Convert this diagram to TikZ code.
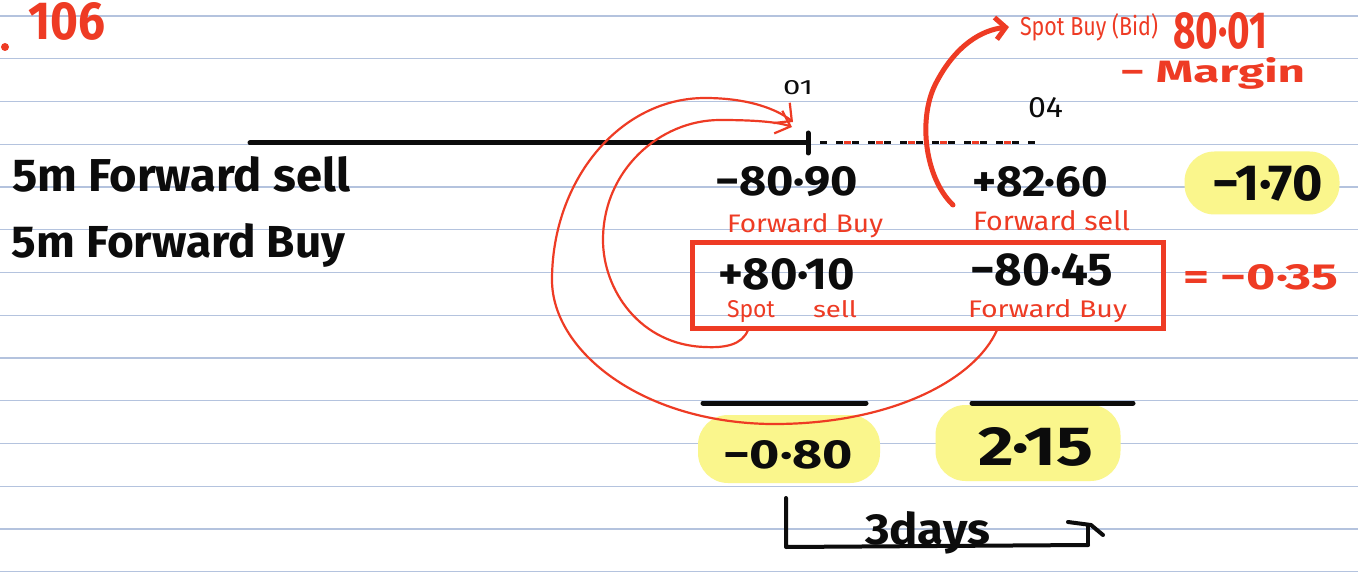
\documentclass[tikz,border=0pt]{standalone}
\usepackage{fontspec}
\setmainfont{Fira Sans}
\usetikzlibrary{arrows.meta}

\definecolor{ink}{RGB}{12,12,12}
\definecolor{pen}{RGB}{238,59,36}
\definecolor{marker}{RGB}{250,246,140}
\definecolor{ruling}{RGB}{180,195,222}

% handwritten-style word: [style] {name} {x} {baseline y} {width} {height} {text}
\newcommand\scribble[7][]{%
  \node[anchor=base west, inner sep=0pt, outer sep=0pt, #1] (#2) at (#3,#4)
    {\resizebox{#5pt}{#6pt}{#7}};}

\tikzset{
  ruled/.style={draw=ruling, line width=1.4pt},
  blob/.style={fill=marker, rounded corners=30pt, inner sep=0pt},
  heavy/.style={draw=ink, line width=5pt, line cap=round},
  inkline/.style={draw=ink, line width=4pt, line cap=round, line join=round},
  redpen/.style={draw=pen, line width=2.2pt, line cap=round},
  redthick/.style={draw=pen, line width=5pt, line cap=round},
  blacktext/.style={text=ink, font=\bfseries},
  redtext/.style={text=pen},
  redbold/.style={text=pen, font=\bfseries},
}

\begin{document}
\begin{tikzpicture}[x=1pt, y=-1pt]
\useasboundingbox (0,0) rectangle (1358,580);
\fill[white] (0,0) rectangle (1358,580);

% notebook ruling
\foreach \k in {0,...,13}
  \draw[ruled] (0,16+42.75*\k) -- (1358,16+42.75*\k);

% highlighter marks
\node[blob, minimum width=155pt, minimum height=63pt] (hlNet)  at (1262,183) {};
\node[blob, minimum width=182pt, minimum height=68pt] (hlLeft) at (789,449) {};
\node[blob, minimum width=185pt, minimum height=76pt] (hlRight) at (1028,443) {};

% page number
\scribble[redbold]{page}{28}{40}{77}{37}{106}
\fill[pen] (5,47) circle (4pt);

% time line with settlement dates
\coordinate (lineStart) at (250,143);
\coordinate (dayOne) at (808,143);
\coordinate (dashStart) at (820,143);
\coordinate (dashEnd) at (1035,143);
\draw[heavy] (lineStart) -- (dayOne);
\draw[heavy] (808,133) -- (808,153);
\draw[draw=ink, line width=3pt, dash pattern=on 7pt off 9pt] (dashStart) -- (dashEnd);
\draw[draw=pen, line width=3pt, dash pattern=on 7pt off 25pt, dash phase=8pt] (dashStart) -- (dashEnd);
\scribble[text=ink]{d01}{783}{95}{30}{14}{01}
\scribble[text=ink]{d04}{1028}{118}{35}{20}{04}

% row labels
\scribble[blacktext]{rowSell}{12}{192}{338}{35}{5m Forward sell}
\scribble[blacktext]{rowBuy}{12}{258}{333}{34}{5m Forward Buy}

% first leg
\scribble[blacktext]{fwdNear}{715}{196}{143}{29}{−80·90}
\scribble[blacktext]{fwdFar}{972}{197}{136}{30}{+82·60}
\scribble[blacktext]{netFirst}{1212}{201}{111}{35}{−1·70}
\scribble[redtext]{lblFwdBuy}{727}{233}{156}{19}{Forward Buy}
\scribble[redtext]{lblFwdSell}{973}{230}{157}{20}{Forward sell}

% swap leg in the box
\node[draw=pen, line width=5pt, minimum width=471pt, minimum height=85pt, inner sep=0pt]
  (swapBox) at (927.5,285.5) {};
\scribble[blacktext]{spotNear}{718}{289}{137}{31}{+80·10}
\scribble[blacktext]{fwdFarTwo}{970}{285}{143}{32}{−80·45}
\scribble[redtext]{lblSpot}{727}{317}{48}{17}{Spot}
\scribble[redtext]{lblSell}{813}{317}{44}{17}{sell}
\scribble[redtext]{lblFwdBuyTwo}{968}{317}{159}{18}{Forward Buy}
\scribble[redbold]{netSwap}{1183}{290}{155}{25}{= −0·35}

% totals
\draw[heavy] (703,403) coordinate (ulA) -- (866,403) coordinate (ulB);
\draw[heavy] (972,403) coordinate (ulC) -- (1133,403) coordinate (ulD);
\scribble[blacktext]{totLeft}{723}{468}{130}{28}{−0·80}
\scribble[blacktext]{totRight}{978}{465}{115}{38}{2·15}

% three-day span
\coordinate (spanTop) at (786,498);
\coordinate (spanCorner) at (786,547);
\coordinate (spanEnd) at (1088,545);
\draw[inkline] (spanTop) -- (spanCorner) -- (spanEnd);
\draw[inkline] (1068,522) -- (1091,525) -- (1103,535);
\draw[inkline] (1088,526) -- (spanEnd);
\scribble[blacktext]{span}{865}{544}{125}{33}{3days}

% spot bid note
\scribble[redtext]{bidNote}{1020}{36}{138}{22}{Spot Buy (Bid)}
\scribble[redbold]{bidRate}{1173}{49}{94}{36}{80·01}
\scribble[redbold]{margin}{1120}{83}{185}{25}{− Margin}

% arrows between legs
\coordinate (outerFrom) at (997,330);
\coordinate (innerFrom) at (748,330);
\coordinate (tipOuter) at (793,122);
\coordinate (tipInner) at (792,127);
\draw[redpen, -{Straight Barb[length=13pt,width=26pt]}]
  (outerFrom) .. controls (975,380) and (890,425) .. (770,424)
  .. controls (640,422) and (552,350) .. (552,280)
  .. controls (552,180) and (620,98) .. (705,98)
  .. controls (750,98) and (778,110) .. (tipOuter);
\draw[redpen, -{Straight Barb[length=13pt,width=24pt]}]
  (innerFrom) .. controls (742,345) and (725,348) .. (705,347)
  .. controls (640,345) and (603,290) .. (603,240)
  .. controls (603,170) and (660,120) .. (720,120)
  .. controls (755,120) and (778,122) .. (tipInner);

\coordinate (arcFrom) at (953,205);
\coordinate (arcTip) at (1009,27);
\draw[redthick, -{Straight Barb[length=10pt,width=22pt]}]
  (arcFrom) .. controls (925,178) and (918,120) .. (935,85)
  .. controls (955,45) and (982,30) .. (arcTip);
\end{tikzpicture}
\end{document}
